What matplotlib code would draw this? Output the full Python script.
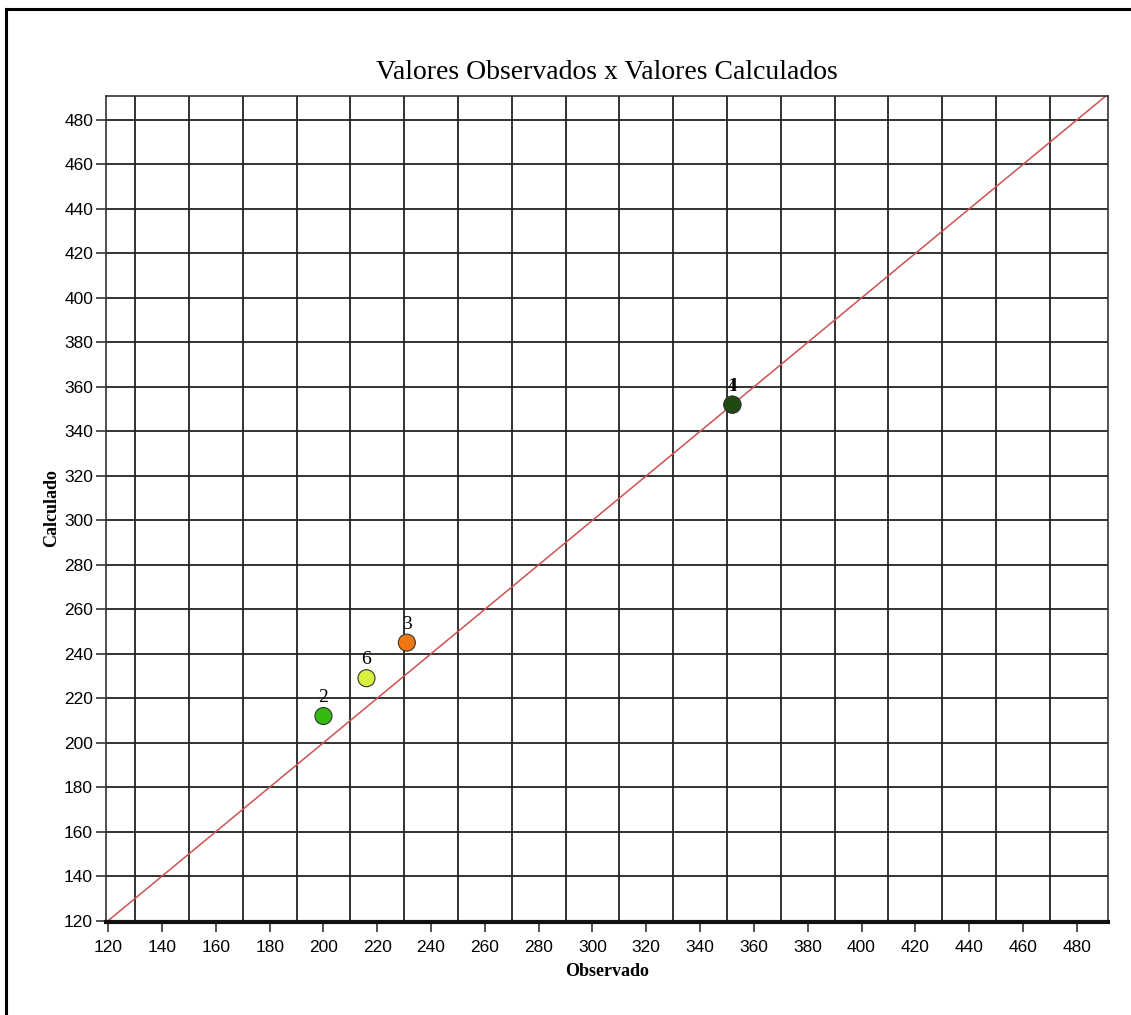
import matplotlib
matplotlib.use('Agg')
import matplotlib.pyplot as plt
from matplotlib.lines import Line2D

# dados
labels = ['2', '6', '3', '1', '4']
observado = [200, 216, 231, 352, 352]
calculado = [212, 229, 245, 352, 352]
cores = ['#33bb11', '#d8f040', '#ee7711', '#1e4a10', '#1e4a10']

ticks = list(range(120, 481, 20))
grid_x = list(range(130, 471, 20))

serif = ['Liberation Serif', 'DejaVu Serif']
narrow = ['Liberation Sans Narrow', 'Liberation Sans', 'DejaVu Sans']

fig = plt.figure(figsize=(11.31, 10.15), dpi=100)
ax = fig.add_axes([0.0933, 0.0921, 0.8861, 0.8138])

ax.set_xlim(119, 491.5)
ax.set_ylim(119.6, 491)

# grade
for gx in grid_x:
    ax.axvline(gx, color='#222222', lw=1.3, zorder=1)
for gy in ticks:
    ax.axhline(gy, color='#222222', lw=1.3, zorder=1)

# linha 1:1
ax.plot([119, 491.5], [119, 491.5], color='#d05050', lw=1.1, zorder=2)

ax.scatter(observado, calculado, s=150, c=cores, edgecolors='#333333',
           linewidths=0.8, zorder=3)
for lab, xo, yc in zip(labels, observado, calculado):
    ax.text(xo, yc + 4.5, lab, ha='center', va='bottom', fontsize=14,
            family=serif, zorder=4)

ax.set_xticks(ticks)
ax.set_yticks(ticks)
ax.tick_params(axis='both', direction='out', length=7, width=1.2,
               color='#333333', labelsize=12.5)
ax.tick_params(axis='x', pad=6)
ax.tick_params(axis='y', pad=2)
for t in ax.get_xticklabels() + ax.get_yticklabels():
    t.set_family(narrow)

for s in ['top', 'right', 'left']:
    ax.spines[s].set_linewidth(1.2)
    ax.spines[s].set_color('#333333')
ax.spines['bottom'].set_linewidth(3)
ax.spines['bottom'].set_color('#111111')

ax.set_title('Valores Observados x Valores Calculados', fontsize=20,
             family=serif, pad=12)
ax.set_xlabel('Observado', fontsize=13, family=serif, fontweight='bold', labelpad=6)
ax.set_ylabel('Calculado', fontsize=13, family=serif, fontweight='bold', labelpad=3)

# moldura
fig.add_artist(Line2D([6 / 1131, 6 / 1131], [0, 1 - 9 / 1015], color='black', lw=2.2))
fig.add_artist(Line2D([6 / 1131, 1], [1 - 9 / 1015, 1 - 9 / 1015], color='black', lw=2.2))

fig.savefig('out.png', dpi=100)
